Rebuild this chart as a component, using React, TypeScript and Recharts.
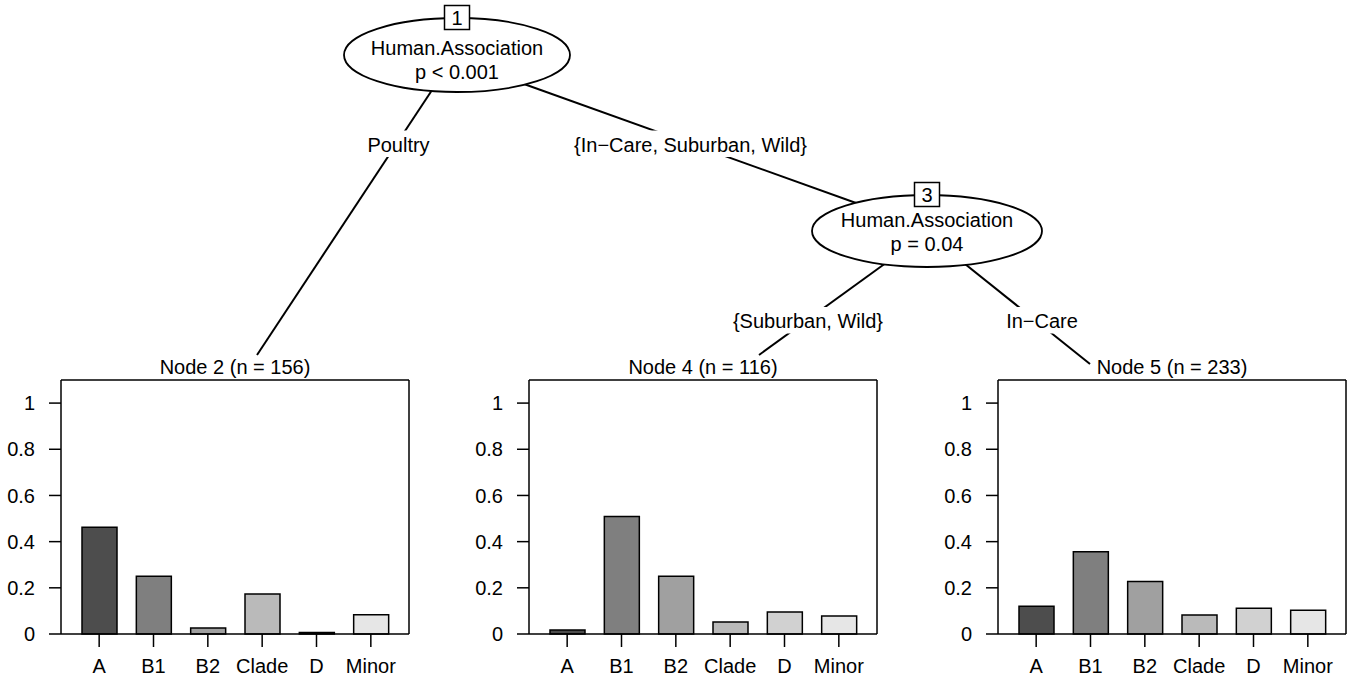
import { BarChart, Bar, XAxis, YAxis, Cell, ReferenceLine } from "recharts";

const categories = ["A", "B1", "B2", "Clade", "D", "Minor"];
const node2Values = [0.462, 0.25, 0.026, 0.173, 0.006, 0.083];
const node4Values = [0.017, 0.509, 0.25, 0.052, 0.095, 0.078];
const node5Values = [0.12, 0.356, 0.227, 0.082, 0.112, 0.103];
const yTicks = [0, 0.2, 0.4, 0.6, 0.8, 1];
const yMax = 1.1;
const nodeTitles = ["Node 2 (n = 156)", "Node 4 (n = 116)", "Node 5 (n = 233)"];
const barColors = ["#4d4d4d", "#7f7f7f", "#a0a0a0", "#bababa", "#d1d1d1", "#e6e6e6"];

const FONT = "'Liberation Sans', Arial, Helvetica, sans-serif";
const FS = 20;

function NodePanel({ values, left }: { values: number[]; left: number }) {
  const data = categories.map((c, i) => ({ name: c, value: values[i] }));
  return (
    <div style={{ position: "absolute", left: left - 60, top: 370 }}>
      <BarChart
        width={414}
        height={314}
        data={data}
        margin={{ top: 10, right: 5, bottom: 0, left: 0 }}
      >
        <XAxis
          dataKey="name"
          interval={0}
          padding={{ left: 11, right: 11 }}
          height={50}
          tickSize={13}
          tickMargin={12}
          tick={{ fill: "#000", fontSize: FS }}
          axisLine={{ stroke: "#000", strokeWidth: 1.5 }}
          tickLine={{ stroke: "#000", strokeWidth: 1.5 }}
        />
        <YAxis
          domain={[0, yMax]}
          ticks={yTicks}
          width={60}
          tickSize={12}
          tickMargin={14}
          tick={{ fill: "#000", fontSize: FS }}
          axisLine={{ stroke: "#000", strokeWidth: 1.5 }}
          tickLine={{ stroke: "#000", strokeWidth: 1.5 }}
        />
        <YAxis
          yAxisId="right"
          orientation="right"
          type="number"
          domain={[0, yMax]}
          width={1}
          tick={false}
          tickLine={false}
          axisLine={{ stroke: "#000", strokeWidth: 1.5 }}
        />
        <ReferenceLine y={yMax} stroke="#000" strokeWidth={1.5} />
        <Bar dataKey="value" barSize={35} stroke="#000" strokeWidth={1.5} isAnimationActive={false}>
          {data.map((d, i) => (
            <Cell key={d.name} fill={barColors[i]} />
          ))}
        </Bar>
      </BarChart>
    </div>
  );
}

function EdgeLabel({ x, y, w, text }: { x: number; y: number; w: number; text: string }) {
  return (
    <g>
      <rect x={x - w / 2} y={y - 21} width={w} height={26.5} fill="#fff" />
      <text x={x} y={y} textAnchor="middle" fontSize={FS} fill="#000">
        {text}
      </text>
    </g>
  );
}

function InnerNode({ cx, cy, rx, ry, id, label, p, textY }: any) {
  const boxCy = cy - ry - 0.5;
  return (
    <g>
      <ellipse cx={cx} cy={cy} rx={rx} ry={ry} fill="#fff" stroke="#000" strokeWidth={1.8} />
      <rect x={cx - 12.5} y={boxCy - 12} width={25} height={24} fill="#fff" stroke="#000" strokeWidth={1.5} />
      <text x={cx} y={boxCy + 7.5} textAnchor="middle" fontSize={FS}>{id}</text>
      <text x={cx} y={textY} textAnchor="middle" fontSize={FS}>{label}</text>
      <text x={cx} y={textY + 23.5} textAnchor="middle" fontSize={FS}>{p}</text>
    </g>
  );
}

export default function App() {
  const panelLefts = [61, 529, 998];
  const panels = [node2Values, node4Values, node5Values];
  return (
    <div
      style={{
        position: "absolute",
        left: 0,
        top: 0,
        width: 1355,
        height: 681,
        overflow: "hidden",
        background: "#fff",
        fontFamily: FONT,
      }}
    >
      {panels.map((v, i) => (
        <NodePanel key={i} values={v} left={panelLefts[i]} />
      ))}
      <svg
        width={1355}
        height={681}
        style={{ position: "absolute", left: 0, top: 0, pointerEvents: "none", fontFamily: FONT }}
      >
        <g stroke="#000" strokeWidth={2}>
          <line x1={440} y1={78} x2={257} y2={355} />
          <line x1={510} y1={79} x2={870} y2={208} />
          <line x1={890} y1={260} x2={759} y2={355} />
          <line x1={955} y1={256} x2={1090} y2={364} />
        </g>
        <EdgeLabel x={398.5} y={151.5} w={74} text="Poultry" />
        <EdgeLabel x={690.5} y={151.5} w={250} text="{In−Care, Suburban, Wild}" />
        <EdgeLabel x={808} y={328} w={164} text="{Suburban, Wild}" />
        <EdgeLabel x={1042} y={328} w={82} text="In−Care" />
        <InnerNode cx={457} cy={55} rx={113} ry={37} id="1" label="Human.Association" p="p < 0.001" textY={55} />
        <InnerNode cx={927} cy={231} rx={115} ry={36} id="3" label="Human.Association" p="p = 0.04" textY={227} />
        {nodeTitles.map((t, i) => (
          <text key={t} x={panelLefts[i] + 174} y={374} textAnchor="middle" fontSize={FS}>
            {t}
          </text>
        ))}
      </svg>
    </div>
  );
}
